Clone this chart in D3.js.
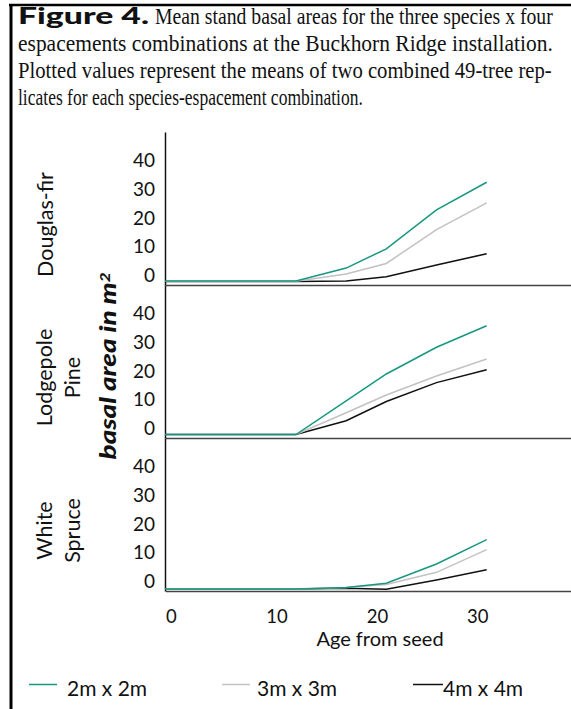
<!DOCTYPE html>
<html>
<head>
<meta charset="utf-8">
<script src="https://cdn.jsdelivr.net/npm/d3@7"></script>
<style>
    body { margin: 0; background: #fff; }
    svg { display: block; }
    text { font-family: Lato, 'Noto Sans', sans-serif; fill: #111; }
</style>
</head>
<body>
<div class="canvas"></div>
<script>
// data
const ages = [0, 13, 18, 22, 27, 32];
const spacings = ['2m x 2m', '3m x 3m', '4m x 4m'];
const colors = ['#17977f', '#c2c2c2', '#111111'];

const douglasFir = [
    [0.2, 0.2, 4.7, 11.4, 25.0, 34.6],
    [0.1, 0.1, 2.6, 6.3, 18.1, 27.4],
    [0.0, 0.0, 0.2, 1.7, 5.8, 9.7]
];
const lodgepolePine = [
    [0.0, 0.0, 11.7, 21.1, 30.4, 37.9],
    [0.0, 0.0, 7.6, 13.8, 20.4, 26.3],
    [0.0, 0.0, 4.8, 11.5, 18.1, 22.6]
];
const whiteSpruce = [
    [-0.5, -0.5, 0.0, 1.5, 8.2, 16.7],
    [-0.5, -0.5, 0.0, 1.1, 5.3, 13.2],
    [-0.5, -0.5, -0.2, -0.6, 2.6, 6.2]
];

const panels = [
    { name: ['Douglas-fir'], values: douglasFir },
    { name: ['Lodgepole', 'Pine'], values: lodgepolePine },
    { name: ['White', 'Spruce'], values: whiteSpruce }
];

const yTicks = [0, 10, 20, 30, 40];
const xTicks = [0, 10, 20, 30];

const captionLines = [
    'espacements combinations at the Buckhorn Ridge installation.',
    'Plotted values represent the means of two combined 49-tree rep-',
    'licates for each species-espacement combination.'
];

const width = 571;
const height = 709;

const svg = d3.select('.canvas')
    .append('svg')
    .attr('width', width)
    .attr('height', height)
;

// squeeze a text horizontally so it spans the given width
const fit = (sel, pre, target) => {
    const w = sel.node().getComputedTextLength();
    sel.attr('transform', `${pre} scale(${target / w}, 1)`);
};

// frame
svg.append('line')
    .attr('x1', 9).attr('x2', width).attr('y1', 5).attr('y2', 5)
    .attr('stroke', '#000').attr('stroke-width', 2.5)
;
svg.append('line')
    .attr('x1', 11).attr('x2', 11).attr('y1', 4).attr('y2', height)
    .attr('stroke', '#000').attr('stroke-width', 3)
;

// caption
const fig = svg.append('text')
    .attr('font-size', 22).attr('font-weight', 900)
    .text('Figure 4.')
;
fit(fig, 'translate(18, 24)', 131);

const first = svg.append('text')
    .style('font-family', "'Liberation Serif', serif")
    .attr('font-size', 22.5)
    .text('Mean stand basal areas for the three species x four')
;
fit(first, 'translate(155, 24)', 398);

const captionWidths = [535, 534, 345];
captionLines.forEach((t, i) => {
    const c = svg.append('text')
        .style('font-family', "'Liberation Serif', serif")
        .attr('font-size', 22.5)
        .text(t)
    ;
    fit(c, `translate(18, ${51 + i * 27})`, captionWidths[i]);
});

// scales
const x = d3.scaleLinear().domain([0, 40.4]).range([165.5, width]);
const panelH = 153;
const panelBottoms = [285, 438, 591];

const line = d3.line()
    .x((d, i) => x(ages[i]))
    .y(d => d)
;

panels.forEach((p, pi) => {
    const bottom = panelBottoms[pi];
    const y = d3.scaleLinear().domain([-1.2, 52.1]).range([bottom, bottom - panelH]);

    const g = svg.append('g');

    // x baseline
    const xAxis = d3.axisBottom(x).tickSize(0).tickSizeOuter(0)
        .tickValues(pi === 2 ? xTicks : []);
    const xg = g.append('g')
        .attr('transform', `translate(0, ${bottom})`)
        .call(xAxis)
    ;
    xg.select('.domain').attr('stroke', '#444').attr('stroke-width', 1.5);
    xg.selectAll('text')
        .attr('y', 32).attr('dy', 0)
        .attr('text-anchor', 'start')
        .attr('font-size', 18.5)
        .style('font-family', 'Lato, sans-serif')
        .attr('fill', '#111')
    ;

    // y axis
    const yAxis = d3.axisLeft(y).tickValues(yTicks).tickSize(0).tickSizeOuter(0).tickPadding(10);
    const yg = g.append('g')
        .attr('transform', 'translate(165, 0)')
        .call(yAxis)
    ;
    yg.select('.domain').attr('stroke', '#111').attr('stroke-width', 1.5);
    yg.selectAll('text')
        .attr('dy', 0)
        .attr('font-size', 19)
        .style('font-family', 'Lato, sans-serif')
        .attr('fill', '#111')
    ;

    // series, green drawn last so it sits on top
    [2, 1, 0].forEach(si => {
        g.append('path')
            .datum(p.values[si].map(v => y(v)))
            .attr('fill', 'none')
            .attr('stroke', colors[si])
            .attr('stroke-width', 1.5)
            .attr('d', line)
        ;
    });

    // species label
    const cy = bottom - panelH / 2 + 16;
    const lx = p.name.length === 1 ? [45] : [44, 72];
    p.name.forEach((n, k) => {
        svg.append('text')
            .attr('transform', `translate(${lx[k]}, ${cy}) rotate(-90)`)
            .attr('text-anchor', 'middle')
            .attr('dy', '0.35em')
            .attr('font-size', 21.5)
            .text(n)
        ;
    });
});

// y title
const yTitle = svg.append('text')
    .attr('text-anchor', 'middle')
    .attr('dy', '0.35em')
    .attr('font-size', 23)
    .attr('font-weight', 900)
    .attr('font-style', 'italic')
;
yTitle.append('tspan').text('basal area in m');
yTitle.append('tspan').attr('dy', '-0.45em').attr('font-size', 14).text('2');
fit(yTitle, 'translate(108, 366) rotate(-90)', 187);

// x title
svg.append('text')
    .attr('x', 380).attr('y', 646)
    .attr('text-anchor', 'middle')
    .attr('font-size', 20)
    .text('Age from seed')
;

// legend
const legendX = [29, 222, 413];
const legend = svg.selectAll('.legend')
    .data(spacings)
    .enter()
    .append('g')
        .attr('class', 'legend')
        .attr('transform', (d, i) => `translate(${legendX[i]}, 684.5)`)
;
legend.append('line')
    .attr('x1', 0).attr('x2', (d, i) => i === 2 ? 30 : 28)
    .attr('stroke', (d, i) => colors[i])
    .attr('stroke-width', 1.5)
;
legend.append('text')
    .attr('x', (d, i) => i === 2 ? 30 : (i === 0 ? 38 : 35))
    .attr('y', 11)
    .attr('font-size', 21)
    .text(d => d)
;
</script>
</body>
</html>
